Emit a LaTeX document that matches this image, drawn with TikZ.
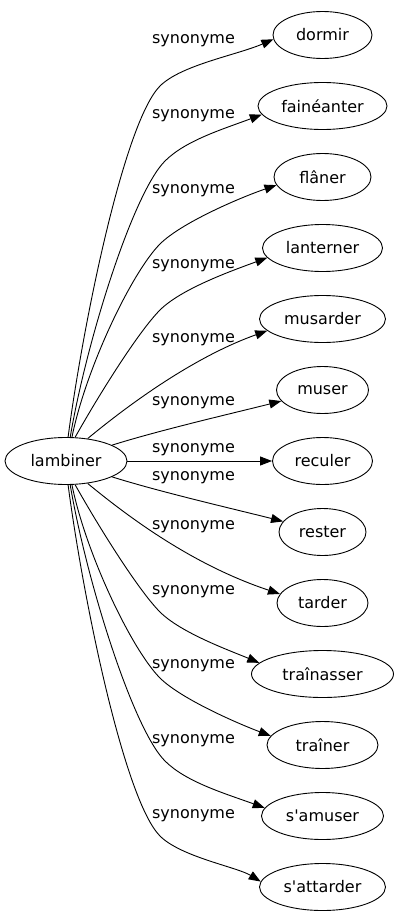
\documentclass[tikz,border=0pt]{standalone}
\usepackage{fontspec}
\setmainfont{DejaVu Sans}
\usetikzlibrary{shapes.geometric,arrows.meta}
\begin{document}
\begin{tikzpicture}[x=1pt,y=-1pt,
  word/.style={draw, ellipse, inner sep=0pt, minimum height=47pt, line width=0.9pt, font=\fontsize{16}{19}\selectfont},
  lbl/.style={inner sep=0pt, font=\fontsize{16}{19}\selectfont},
  edge/.style={line width=0.9pt, -{Triangle[length=12pt,width=9pt]}}]
\fill[white] (0,0) rectangle (400,923);
\useasboundingbox (0,0) rectangle (400,923);

\node[word, minimum width=122pt] (lambiner) at (66,461) {lambiner};

\node[word, minimum width=99pt]  (dormir)     at (322.5,35)  {dormir};
\node[word, minimum width=129pt] (faineanter) at (322.5,106) {fainéanter};
\node[word, minimum width=97pt]  (flaner)     at (322.5,177) {flâner};
\node[word, minimum width=120pt] (lanterner)  at (322.5,248) {lanterner};
\node[word, minimum width=126pt] (musarder)   at (322.5,319) {musarder};
\node[word, minimum width=92pt]  (muser)      at (322.5,390) {muser};
\node[word, minimum width=100pt] (reculer)    at (322.5,461) {reculer};
\node[word, minimum width=87pt]  (rester)     at (322.5,532) {rester};
\node[word, minimum width=91pt]  (tarder)     at (322.5,603) {tarder};
\node[word, minimum width=142pt] (trainasser) at (322.5,674) {traînasser};
\node[word, minimum width=111pt] (trainer)    at (322.5,745) {traîner};
\node[word, minimum width=122pt] (samuser)    at (322.5,816) {s\textquotesingle amuser};
\node[word, minimum width=126pt] (sattarder)  at (322.5,887) {s\textquotesingle attarder};

\node[lbl] (l1)  at (193.5,41)  {synonyme};
\node[lbl] (l2)  at (193.5,116) {synonyme};
\node[lbl] (l3)  at (193.5,191) {synonyme};
\node[lbl] (l4)  at (193.5,266) {synonyme};
\node[lbl] (l5)  at (193.5,340) {synonyme};
\node[lbl] (l6)  at (193.5,403) {synonyme};
\node[lbl] (l7)  at (193.5,450) {synonyme};
\node[lbl] (l8)  at (193.5,478) {synonyme};
\node[lbl] (l9)  at (193.5,527) {synonyme};
\node[lbl] (l10) at (193.5,592) {synonyme};
\node[lbl] (l11) at (193.5,666) {synonyme};
\node[lbl] (l12) at (193.5,741) {synonyme};
\node[lbl] (l13) at (193.5,816) {synonyme};

% upper edges
\draw[edge] (lambiner.85) .. controls (84,317) and (125,121) .. (160,86) .. controls (181,65) and (237,55) .. (dormir.185);
\draw[edge] (lambiner.80) .. controls (86.5,341) and (133,193) .. (165,161) .. controls (186,140) and (225,128.5) .. (faineanter.188);
\draw[edge] (lambiner.76) .. controls (86,368) and (132,272) .. (160,244) .. controls (181,223) and (239,198) .. (flaner.190);
\draw[edge] (lambiner.69) .. controls (100,393) and (139,331) .. (160,310) .. controls (181,289) and (231,271) .. (lanterner.190);
\draw[edge] (lambiner.46) .. controls (141.6,394) and (202,354) .. (musarder.192);
\draw[edge] (lambiner.19) .. controls (160,430) and (238,412) .. (muser.195);
% middle
\draw[edge] (lambiner) -- (reculer);
% lower edges
\draw[edge] (lambiner.-19) .. controls (160,492) and (238,510) .. (rester.165);
\draw[edge] (lambiner.-46) .. controls (141.6,528) and (202,568) .. (tarder.168);
\draw[edge] (lambiner.-69) .. controls (100,529) and (139,591) .. (160,612) .. controls (181,633) and (231,651) .. (trainasser.170);
\draw[edge] (lambiner.-76) .. controls (86,554) and (132,650) .. (160,678) .. controls (181,699) and (239,724) .. (trainer.170);
\draw[edge] (lambiner.-80) .. controls (86.5,581) and (133,729) .. (165,761) .. controls (186,782) and (225,793.5) .. (samuser.172);
\draw[edge] (lambiner.-85) .. controls (84,605) and (125,801) .. (160,836) .. controls (181,857) and (237,867) .. (sattarder.175);
\end{tikzpicture}
\end{document}
